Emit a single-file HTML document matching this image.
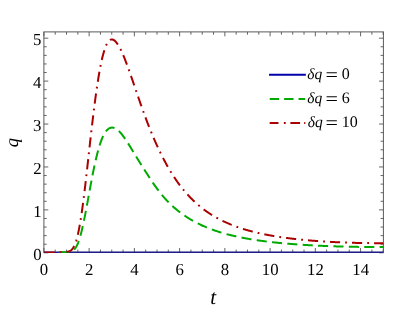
<!DOCTYPE html>
<html><head><meta charset="utf-8">
<style>
html,body{margin:0;padding:0;background:#fff;}
body{width:415px;height:313px;overflow:hidden;}
svg{display:block;}
text{font-family:"Liberation Serif",serif;fill:#000;text-rendering:geometricPrecision;}
.tl text{font-size:16.8px;}
.lg text{font-size:16px;}
.it{font-style:italic;}
.lg text.it{font-size:15.5px;}
</style></head><body>
<svg width="415" height="313" viewBox="0 0 415 313">
<rect width="415" height="313" fill="#fff"/>
<rect x="43.9" y="31.9" width="339.50" height="220.50" fill="none" stroke="#5a5a5a" stroke-width="1"/>
<path d="M43.90,252.4 v-4.4 M43.90,31.9 v4.4 M55.21,252.4 v-2.8 M55.21,31.9 v2.8 M66.52,252.4 v-2.8 M66.52,31.9 v2.8 M77.83,252.4 v-2.8 M77.83,31.9 v2.8 M89.14,252.4 v-4.4 M89.14,31.9 v4.4 M100.45,252.4 v-2.8 M100.45,31.9 v2.8 M111.76,252.4 v-2.8 M111.76,31.9 v2.8 M123.07,252.4 v-2.8 M123.07,31.9 v2.8 M134.38,252.4 v-4.4 M134.38,31.9 v4.4 M145.69,252.4 v-2.8 M145.69,31.9 v2.8 M157.00,252.4 v-2.8 M157.00,31.9 v2.8 M168.31,252.4 v-2.8 M168.31,31.9 v2.8 M179.62,252.4 v-4.4 M179.62,31.9 v4.4 M190.93,252.4 v-2.8 M190.93,31.9 v2.8 M202.24,252.4 v-2.8 M202.24,31.9 v2.8 M213.55,252.4 v-2.8 M213.55,31.9 v2.8 M224.86,252.4 v-4.4 M224.86,31.9 v4.4 M236.17,252.4 v-2.8 M236.17,31.9 v2.8 M247.48,252.4 v-2.8 M247.48,31.9 v2.8 M258.79,252.4 v-2.8 M258.79,31.9 v2.8 M270.10,252.4 v-4.4 M270.10,31.9 v4.4 M281.41,252.4 v-2.8 M281.41,31.9 v2.8 M292.72,252.4 v-2.8 M292.72,31.9 v2.8 M304.03,252.4 v-2.8 M304.03,31.9 v2.8 M315.34,252.4 v-4.4 M315.34,31.9 v4.4 M326.65,252.4 v-2.8 M326.65,31.9 v2.8 M337.96,252.4 v-2.8 M337.96,31.9 v2.8 M349.27,252.4 v-2.8 M349.27,31.9 v2.8 M360.58,252.4 v-4.4 M360.58,31.9 v4.4 M371.89,252.4 v-2.8 M371.89,31.9 v2.8 M383.20,252.4 v-2.8 M383.20,31.9 v2.8 M43.9,252.80 h4.4 M383.4,252.80 h-4.4 M43.9,244.22 h2.8 M383.4,244.22 h-2.8 M43.9,235.63 h2.8 M383.4,235.63 h-2.8 M43.9,227.05 h2.8 M383.4,227.05 h-2.8 M43.9,218.46 h2.8 M383.4,218.46 h-2.8 M43.9,209.88 h4.4 M383.4,209.88 h-4.4 M43.9,201.30 h2.8 M383.4,201.30 h-2.8 M43.9,192.71 h2.8 M383.4,192.71 h-2.8 M43.9,184.13 h2.8 M383.4,184.13 h-2.8 M43.9,175.54 h2.8 M383.4,175.54 h-2.8 M43.9,166.96 h4.4 M383.4,166.96 h-4.4 M43.9,158.38 h2.8 M383.4,158.38 h-2.8 M43.9,149.79 h2.8 M383.4,149.79 h-2.8 M43.9,141.21 h2.8 M383.4,141.21 h-2.8 M43.9,132.62 h2.8 M383.4,132.62 h-2.8 M43.9,124.04 h4.4 M383.4,124.04 h-4.4 M43.9,115.46 h2.8 M383.4,115.46 h-2.8 M43.9,106.87 h2.8 M383.4,106.87 h-2.8 M43.9,98.29 h2.8 M383.4,98.29 h-2.8 M43.9,89.70 h2.8 M383.4,89.70 h-2.8 M43.9,81.12 h4.4 M383.4,81.12 h-4.4 M43.9,72.54 h2.8 M383.4,72.54 h-2.8 M43.9,63.95 h2.8 M383.4,63.95 h-2.8 M43.9,55.37 h2.8 M383.4,55.37 h-2.8 M43.9,46.78 h2.8 M383.4,46.78 h-2.8 M43.9,38.20 h4.4 M383.4,38.20 h-4.4" stroke="#555" stroke-width="0.9" fill="none"/>
<defs><clipPath id="pc"><rect x="43.9" y="31.9" width="339.50" height="221.20"/></clipPath></defs>
<path d="M43.9,252.3 H383.4" stroke="#1e1e88" stroke-width="1.5" fill="none"/>
<g clip-path="url(#pc)">
<path d="M59.30,252.36 L59.84,252.35 L60.38,252.34 L60.92,252.34 L61.46,252.33 L62.01,252.32 L62.55,252.31 L63.09,252.30 L63.63,252.29 L64.17,252.27 L64.71,252.26 L65.25,252.24 L65.79,252.22 L66.33,252.20 L66.88,252.18 L67.42,252.15 L67.96,252.11 L68.50,252.06 L69.04,251.99 L69.58,251.91 L70.12,251.81 L70.66,251.67 L71.20,251.50 L71.75,251.29 L72.29,251.02 L72.83,250.70 L73.37,250.31 L73.91,249.84 L74.45,249.28 L74.99,248.63 L75.53,247.88 L76.07,247.02 L76.62,246.05 L77.16,244.96 L77.70,243.74 L78.24,242.39 L78.78,240.92 L79.32,239.31 L79.86,237.58 L80.40,235.72 L80.94,233.73 L81.49,231.63 L82.03,229.41 L82.57,227.08 L83.11,224.65 L83.65,222.13 L84.19,219.52 L84.73,216.83 L85.27,214.08 L85.81,211.26 L86.36,208.40 L86.90,205.50 L87.44,202.57 L87.98,199.61 L88.52,196.65 L89.06,193.68 L89.60,190.73 L90.14,187.78 L90.68,184.86 L91.23,181.97 L91.77,179.12 L92.31,176.32 L92.85,173.56 L93.39,170.87 L93.93,168.23 L94.47,165.67 L95.01,163.17 L95.55,160.76 L96.10,158.42 L96.64,156.16 L97.18,153.99 L97.72,151.91 L98.26,149.92 L98.80,148.02 L99.34,146.21 L99.88,144.49 L100.42,142.86 L100.97,141.33 L101.51,139.88 L102.05,138.53 L102.59,137.27 L103.13,136.09 L103.67,135.01 L104.21,134.00 L104.75,133.08 L105.29,132.24 L105.84,131.48 L106.38,130.80 L106.92,130.19 L107.46,129.65 L108.00,129.17 L108.54,128.77 L109.08,128.43 L109.62,128.14 L110.16,127.92 L110.71,127.76 L111.25,127.65 L111.79,127.60 L112.33,127.59 L112.87,127.64 L113.41,127.73 L113.95,127.87 L114.49,128.06 L115.03,128.29 L115.58,128.57 L116.12,128.88 L116.66,129.23 L117.20,129.63 L117.74,130.06 L118.28,130.52 L118.82,131.02 L119.36,131.55 L119.90,132.11 L120.45,132.71 L120.99,133.33 L121.53,133.97 L122.07,134.65 L122.61,135.34 L123.15,136.06 L123.69,136.79 L124.23,137.55 L124.77,138.32 L125.32,139.11 L125.86,139.92 L126.40,140.74 L126.94,141.57 L127.48,142.41 L128.02,143.26 L128.56,144.12 L129.10,144.99 L129.64,145.86 L130.19,146.74 L130.73,147.62 L131.27,148.51 L131.81,149.40 L132.35,150.30 L132.89,151.19 L133.43,152.09 L133.97,152.98 L134.51,153.88 L135.06,154.77 L135.60,155.66 L136.14,156.55 L136.68,157.44 L137.22,158.32 L137.76,159.20 L138.30,160.08 L138.84,160.95 L139.38,161.82 L139.93,162.69 L140.47,163.55 L141.01,164.41 L141.55,165.27 L142.09,166.12 L142.63,166.98 L143.17,167.83 L143.71,168.67 L144.25,169.52 L144.80,170.37 L145.34,171.21 L145.88,172.05 L146.42,172.89 L146.96,173.73 L147.50,174.56 L148.04,175.40 L148.58,176.23 L149.12,177.06 L149.67,177.89 L150.21,178.71 L150.75,179.54 L151.29,180.35 L151.83,181.17 L152.37,181.98 L152.91,182.78 L153.45,183.58 L153.99,184.37 L154.54,185.15 L155.08,185.92 L155.62,186.69 L156.16,187.45 L156.70,188.20 L157.24,188.94 L157.78,189.67 L158.32,190.39 L158.86,191.10 L159.41,191.80 L159.95,192.50 L160.49,193.18 L161.03,193.85 L161.57,194.52 L162.11,195.17 L162.65,195.82 L163.19,196.46 L163.73,197.09 L164.28,197.71 L164.82,198.32 L165.36,198.92 L165.90,199.51 L166.44,200.09 L166.98,200.67 L167.52,201.24 L168.06,201.80 L168.60,202.35 L169.15,202.89 L169.69,203.43 L170.23,203.95 L170.77,204.47 L171.31,204.99 L171.85,205.49 L172.39,205.99 L172.93,206.48 L173.47,206.97 L174.02,207.45 L174.56,207.92 L175.10,208.38 L175.64,208.84 L176.18,209.29 L176.72,209.74 L177.26,210.18 L177.80,210.61 L178.34,211.04 L178.89,211.46 L179.43,211.88 L179.97,212.30 L180.51,212.70 L181.05,213.11 L181.59,213.50 L182.13,213.90 L182.67,214.28 L183.21,214.67 L183.76,215.04 L184.30,215.42 L184.84,215.79 L185.38,216.15 L185.92,216.51 L186.46,216.87 L187.00,217.22 L187.54,217.57 L188.08,217.91 L188.63,218.25 L189.17,218.58 L189.71,218.91 L190.25,219.24 L190.79,219.56 L191.33,219.88 L191.87,220.19 L192.41,220.50 L192.95,220.81 L193.50,221.11 L194.04,221.41 L194.58,221.70 L195.12,221.99 L195.66,222.28 L196.20,222.57 L196.74,222.85 L197.28,223.13 L197.82,223.40 L198.37,223.67 L198.91,223.94 L199.45,224.20 L199.99,224.46 L200.53,224.72 L201.07,224.98 L201.61,225.23 L202.15,225.48 L202.69,225.72 L203.24,225.96 L203.78,226.20 L204.32,226.44 L204.86,226.68 L205.40,226.91 L205.94,227.13 L206.48,227.36 L207.02,227.58 L207.56,227.80 L208.11,228.02 L208.65,228.24 L209.19,228.45 L209.73,228.66 L210.27,228.87 L210.81,229.07 L211.35,229.27 L211.89,229.47 L212.43,229.67 L212.98,229.87 L213.52,230.06 L214.06,230.25 L214.60,230.44 L215.14,230.63 L215.68,230.81 L216.22,230.99 L216.76,231.17 L217.30,231.35 L217.85,231.53 L218.39,231.70 L218.93,231.87 L219.47,232.04 L220.01,232.21 L220.55,232.38 L221.09,232.54 L221.63,232.70 L222.17,232.86 L222.72,233.02 L223.26,233.18 L223.80,233.33 L224.34,233.49 L224.88,233.64 L225.42,233.79 L225.96,233.94 L226.50,234.08 L227.04,234.23 L227.59,234.37 L228.13,234.51 L228.67,234.65 L229.21,234.79 L229.75,234.93 L230.29,235.06 L230.83,235.20 L231.37,235.33 L231.91,235.46 L232.46,235.59 L233.00,235.72 L233.54,235.84 L234.08,235.97 L234.62,236.09 L235.16,236.22 L235.70,236.34 L236.24,236.46 L236.78,236.58 L237.33,236.69 L237.87,236.81 L238.41,236.92 L238.95,237.04 L239.49,237.15 L240.03,237.26 L240.57,237.37 L241.11,237.48 L241.65,237.59 L242.20,237.69 L242.74,237.80 L243.28,237.90 L243.82,238.01 L244.36,238.11 L244.90,238.21 L245.44,238.31 L245.98,238.41 L246.52,238.51 L247.07,238.60 L247.61,238.70 L248.15,238.79 L248.69,238.89 L249.23,238.98 L249.77,239.07 L250.31,239.16 L250.85,239.25 L251.39,239.34 L251.94,239.43 L252.48,239.52 L253.02,239.61 L253.56,239.69 L254.10,239.78 L254.64,239.86 L255.18,239.94 L255.72,240.02 L256.26,240.11 L256.81,240.19 L257.35,240.27 L257.89,240.34 L258.43,240.42 L258.97,240.50 L259.51,240.58 L260.05,240.65 L260.59,240.73 L261.13,240.80 L261.68,240.88 L262.22,240.95 L262.76,241.02 L263.30,241.09 L263.84,241.16 L264.38,241.23 L264.92,241.30 L265.46,241.37 L266.00,241.44 L266.55,241.51 L267.09,241.57 L267.63,241.64 L268.17,241.70 L268.71,241.77 L269.25,241.83 L269.79,241.90 L270.33,241.96 L270.87,242.02 L271.42,242.08 L271.96,242.14 L272.50,242.20 L273.04,242.26 L273.58,242.32 L274.12,242.38 L274.66,242.44 L275.20,242.50 L275.74,242.55 L276.29,242.61 L276.83,242.67 L277.37,242.72 L277.91,242.78 L278.45,242.83 L278.99,242.89 L279.53,242.94 L280.07,242.99 L280.61,243.04 L281.16,243.10 L281.70,243.15 L282.24,243.20 L282.78,243.25 L283.32,243.30 L283.86,243.35 L284.40,243.40 L284.94,243.45 L285.48,243.49 L286.03,243.54 L286.57,243.59 L287.11,243.63 L287.65,243.68 L288.19,243.73 L288.73,243.77 L289.27,243.82 L289.81,243.86 L290.35,243.91 L290.90,243.95 L291.44,243.99 L291.98,244.03 L292.52,244.08 L293.06,244.12 L293.60,244.16 L294.14,244.20 L294.68,244.24 L295.22,244.28 L295.77,244.32 L296.31,244.36 L296.85,244.40 L297.39,244.44 L297.93,244.48 L298.47,244.52 L299.01,244.55 L299.55,244.59 L300.09,244.63 L300.64,244.67 L301.18,244.70 L301.72,244.74 L302.26,244.77 L302.80,244.81 L303.34,244.84 L303.88,244.88 L304.42,244.91 L304.96,244.95 L305.51,244.98 L306.05,245.01 L306.59,245.05 L307.13,245.08 L307.67,245.11 L308.21,245.14 L308.75,245.17 L309.29,245.20 L309.83,245.24 L310.38,245.27 L310.92,245.30 L311.46,245.33 L312.00,245.36 L312.54,245.38 L313.08,245.41 L313.62,245.44 L314.16,245.47 L314.70,245.50 L315.25,245.53 L315.79,245.55 L316.33,245.58 L316.87,245.61 L317.41,245.63 L317.95,245.66 L318.49,245.69 L319.03,245.71 L319.57,245.74 L320.12,245.76 L320.66,245.79 L321.20,245.81 L321.74,245.84 L322.28,245.86 L322.82,245.88 L323.36,245.91 L323.90,245.93 L324.44,245.95 L324.99,245.98 L325.53,246.00 L326.07,246.02 L326.61,246.04 L327.15,246.06 L327.69,246.09 L328.23,246.11 L328.77,246.13 L329.31,246.15 L329.86,246.17 L330.40,246.19 L330.94,246.21 L331.48,246.23 L332.02,246.25 L332.56,246.27 L333.10,246.28 L333.64,246.30 L334.18,246.32 L334.73,246.34 L335.27,246.36 L335.81,246.37 L336.35,246.39 L336.89,246.41 L337.43,246.42 L337.97,246.44 L338.51,246.46 L339.06,246.47 L339.60,246.49 L340.14,246.50 L340.68,246.52 L341.22,246.53 L341.76,246.55 L342.30,246.56 L342.84,246.58 L343.38,246.59 L343.93,246.61 L344.47,246.62 L345.01,246.63 L345.55,246.65 L346.09,246.66 L346.63,246.67 L347.17,246.68 L347.71,246.70 L348.25,246.71 L348.80,246.72 L349.34,246.73 L349.88,246.74 L350.42,246.75 L350.96,246.76 L351.50,246.77 L352.04,246.78 L352.58,246.79 L353.12,246.80 L353.67,246.81 L354.21,246.82 L354.75,246.83 L355.29,246.84 L355.83,246.85 L356.37,246.86 L356.91,246.86 L357.45,246.87 L357.99,246.88 L358.54,246.89 L359.08,246.89 L359.62,246.90 L360.16,246.91 L360.70,246.92 L361.24,246.92 L361.78,246.93 L362.32,246.93 L362.86,246.94 L363.41,246.94 L363.95,246.95 L364.49,246.95 L365.03,246.96 L365.57,246.96 L366.11,246.97 L366.65,246.97 L367.19,246.98 L367.73,246.98 L368.28,246.98 L368.82,246.99 L369.36,246.99 L369.90,246.99 L370.44,246.99 L370.98,247.00 L371.52,247.00 L372.06,247.00 L372.60,247.00 L373.15,247.00 L373.69,247.00 L374.23,247.00 L374.77,247.00 L375.31,247.00 L375.85,247.00 L376.39,247.00 L376.93,247.00 L377.47,247.00 L378.02,247.00 L378.56,247.00 L379.10,247.00 L379.64,247.00 L380.18,247.00 L380.72,247.00 L381.26,246.99 L381.80,246.99 L382.34,246.99 L382.89,246.99 L383.40,246.98" stroke="#00aa00" stroke-width="2" fill="none" stroke-dasharray="10.1 5.3"/>
<path d="M43.90,252.40 L44.47,252.40 L45.03,252.40 L45.60,252.40 L46.17,252.40 L46.73,252.40 L47.30,252.40 L47.87,252.40 L48.43,252.40 L49.00,252.40 L49.57,252.40 L50.14,252.40 L50.70,252.40 L51.27,252.39 L51.84,252.39 L52.40,252.39 L52.97,252.39 L53.54,252.38 L54.10,252.38 L54.67,252.38 L55.24,252.37 L55.80,252.36 L56.37,252.36 L56.94,252.35 L57.50,252.34 L58.07,252.33 L58.64,252.31 L59.20,252.30 L59.77,252.28 L60.34,252.27 L60.90,252.25 L61.47,252.23 L62.04,252.20 L62.61,252.18 L63.17,252.15 L63.74,252.12 L64.31,252.08 L64.87,252.04 L65.44,251.99 L66.01,251.94 L66.57,251.87 L67.14,251.79 L67.71,251.69 L68.27,251.56 L68.84,251.40 L69.41,251.20 L69.97,250.94 L70.54,250.62 L71.11,250.22 L71.67,249.73 L72.24,249.13 L72.81,248.41 L73.37,247.56 L73.94,246.56 L74.51,245.39 L75.08,244.05 L75.64,242.52 L76.21,240.79 L76.78,238.85 L77.34,236.70 L77.91,234.33 L78.48,231.74 L79.04,228.92 L79.61,225.89 L80.18,222.63 L80.74,219.17 L81.31,215.50 L81.88,211.63 L82.44,207.58 L83.01,203.36 L83.58,198.98 L84.14,194.46 L84.71,189.80 L85.28,185.04 L85.84,180.17 L86.41,175.23 L86.98,170.22 L87.55,165.16 L88.11,160.07 L88.68,154.97 L89.25,149.87 L89.81,144.79 L90.38,139.73 L90.95,134.72 L91.51,129.77 L92.08,124.89 L92.65,120.08 L93.21,115.37 L93.78,110.77 L94.35,106.27 L94.91,101.88 L95.48,97.63 L96.05,93.50 L96.61,89.51 L97.18,85.66 L97.75,81.96 L98.31,78.40 L98.88,74.99 L99.45,71.74 L100.02,68.64 L100.58,65.70 L101.15,62.91 L101.72,60.29 L102.28,57.83 L102.85,55.53 L103.42,53.39 L103.98,51.42 L104.55,49.61 L105.12,47.95 L105.68,46.46 L106.25,45.13 L106.82,43.94 L107.38,42.91 L107.95,42.03 L108.52,41.28 L109.08,40.67 L109.65,40.19 L110.22,39.84 L110.78,39.60 L111.35,39.47 L111.92,39.46 L112.49,39.54 L113.05,39.72 L113.62,39.99 L114.19,40.35 L114.75,40.79 L115.32,41.31 L115.89,41.91 L116.45,42.58 L117.02,43.32 L117.59,44.12 L118.15,44.99 L118.72,45.92 L119.29,46.90 L119.85,47.94 L120.42,49.04 L120.99,50.18 L121.55,51.37 L122.12,52.60 L122.69,53.87 L123.26,55.18 L123.82,56.53 L124.39,57.91 L124.96,59.33 L125.52,60.78 L126.09,62.27 L126.66,63.77 L127.22,65.30 L127.79,66.85 L128.36,68.42 L128.92,70.01 L129.49,71.61 L130.06,73.22 L130.62,74.85 L131.19,76.48 L131.76,78.12 L132.32,79.77 L132.89,81.42 L133.46,83.08 L134.02,84.74 L134.59,86.41 L135.16,88.07 L135.73,89.74 L136.29,91.40 L136.86,93.06 L137.43,94.72 L137.99,96.37 L138.56,98.02 L139.13,99.67 L139.69,101.30 L140.26,102.93 L140.83,104.55 L141.39,106.16 L141.96,107.77 L142.53,109.36 L143.09,110.94 L143.66,112.51 L144.23,114.07 L144.79,115.61 L145.36,117.14 L145.93,118.66 L146.49,120.17 L147.06,121.66 L147.63,123.14 L148.20,124.61 L148.76,126.06 L149.33,127.49 L149.90,128.92 L150.46,130.33 L151.03,131.72 L151.60,133.10 L152.16,134.47 L152.73,135.82 L153.30,137.15 L153.86,138.48 L154.43,139.79 L155.00,141.08 L155.56,142.36 L156.13,143.63 L156.70,144.89 L157.26,146.13 L157.83,147.35 L158.40,148.57 L158.96,149.76 L159.53,150.95 L160.10,152.12 L160.67,153.28 L161.23,154.43 L161.80,155.56 L162.37,156.68 L162.93,157.79 L163.50,158.88 L164.07,159.96 L164.63,161.03 L165.20,162.09 L165.77,163.13 L166.33,164.16 L166.90,165.18 L167.47,166.18 L168.03,167.17 L168.60,168.15 L169.17,169.12 L169.73,170.08 L170.30,171.02 L170.87,171.96 L171.43,172.88 L172.00,173.78 L172.57,174.68 L173.14,175.57 L173.70,176.44 L174.27,177.31 L174.84,178.16 L175.40,179.00 L175.97,179.83 L176.54,180.65 L177.10,181.46 L177.67,182.26 L178.24,183.04 L178.80,183.82 L179.37,184.59 L179.94,185.34 L180.50,186.09 L181.07,186.83 L181.64,187.55 L182.20,188.27 L182.77,188.98 L183.34,189.68 L183.90,190.36 L184.47,191.04 L185.04,191.71 L185.61,192.37 L186.17,193.03 L186.74,193.67 L187.31,194.30 L187.87,194.93 L188.44,195.55 L189.01,196.16 L189.57,196.76 L190.14,197.35 L190.71,197.94 L191.27,198.51 L191.84,199.08 L192.41,199.64 L192.97,200.20 L193.54,200.75 L194.11,201.28 L194.67,201.82 L195.24,202.34 L195.81,202.86 L196.38,203.37 L196.94,203.87 L197.51,204.37 L198.08,204.86 L198.64,205.35 L199.21,205.82 L199.78,206.29 L200.34,206.76 L200.91,207.22 L201.48,207.67 L202.04,208.12 L202.61,208.56 L203.18,208.99 L203.74,209.42 L204.31,209.84 L204.88,210.26 L205.44,210.67 L206.01,211.08 L206.58,211.48 L207.14,211.87 L207.71,212.26 L208.28,212.65 L208.85,213.03 L209.41,213.41 L209.98,213.78 L210.55,214.14 L211.11,214.50 L211.68,214.86 L212.25,215.21 L212.81,215.56 L213.38,215.90 L213.95,216.24 L214.51,216.57 L215.08,216.90 L215.65,217.22 L216.21,217.54 L216.78,217.86 L217.35,218.17 L217.91,218.48 L218.48,218.79 L219.05,219.09 L219.61,219.38 L220.18,219.68 L220.75,219.97 L221.32,220.25 L221.88,220.53 L222.45,220.81 L223.02,221.09 L223.58,221.36 L224.15,221.63 L224.72,221.89 L225.28,222.15 L225.85,222.41 L226.42,222.66 L226.98,222.91 L227.55,223.16 L228.12,223.41 L228.68,223.65 L229.25,223.89 L229.82,224.13 L230.38,224.36 L230.95,224.59 L231.52,224.82 L232.08,225.04 L232.65,225.26 L233.22,225.48 L233.79,225.70 L234.35,225.91 L234.92,226.13 L235.49,226.33 L236.05,226.54 L236.62,226.74 L237.19,226.95 L237.75,227.15 L238.32,227.34 L238.89,227.54 L239.45,227.73 L240.02,227.92 L240.59,228.10 L241.15,228.29 L241.72,228.47 L242.29,228.65 L242.85,228.83 L243.42,229.01 L243.99,229.18 L244.55,229.36 L245.12,229.53 L245.69,229.69 L246.26,229.86 L246.82,230.02 L247.39,230.19 L247.96,230.35 L248.52,230.51 L249.09,230.66 L249.66,230.82 L250.22,230.97 L250.79,231.12 L251.36,231.27 L251.92,231.42 L252.49,231.57 L253.06,231.71 L253.62,231.86 L254.19,232.00 L254.76,232.14 L255.32,232.27 L255.89,232.41 L256.46,232.55 L257.02,232.68 L257.59,232.81 L258.16,232.94 L258.73,233.07 L259.29,233.20 L259.86,233.33 L260.43,233.45 L260.99,233.57 L261.56,233.70 L262.13,233.82 L262.69,233.94 L263.26,234.06 L263.83,234.17 L264.39,234.29 L264.96,234.40 L265.53,234.52 L266.09,234.63 L266.66,234.74 L267.23,234.85 L267.79,234.95 L268.36,235.06 L268.93,235.17 L269.50,235.27 L270.06,235.38 L270.63,235.48 L271.20,235.58 L271.76,235.68 L272.33,235.78 L272.90,235.88 L273.46,235.97 L274.03,236.07 L274.60,236.16 L275.16,236.26 L275.73,236.35 L276.30,236.44 L276.86,236.53 L277.43,236.62 L278.00,236.71 L278.56,236.80 L279.13,236.89 L279.70,236.97 L280.26,237.06 L280.83,237.14 L281.40,237.23 L281.97,237.31 L282.53,237.39 L283.10,237.47 L283.67,237.55 L284.23,237.63 L284.80,237.71 L285.37,237.79 L285.93,237.86 L286.50,237.94 L287.07,238.02 L287.63,238.09 L288.20,238.16 L288.77,238.24 L289.33,238.31 L289.90,238.38 L290.47,238.45 L291.03,238.52 L291.60,238.59 L292.17,238.66 L292.73,238.72 L293.30,238.79 L293.87,238.86 L294.44,238.92 L295.00,238.99 L295.57,239.05 L296.14,239.11 L296.70,239.18 L297.27,239.24 L297.84,239.30 L298.40,239.36 L298.97,239.42 L299.54,239.48 L300.10,239.54 L300.67,239.60 L301.24,239.65 L301.80,239.71 L302.37,239.77 L302.94,239.82 L303.50,239.88 L304.07,239.93 L304.64,239.99 L305.20,240.04 L305.77,240.09 L306.34,240.14 L306.91,240.20 L307.47,240.25 L308.04,240.30 L308.61,240.35 L309.17,240.40 L309.74,240.45 L310.31,240.49 L310.87,240.54 L311.44,240.59 L312.01,240.64 L312.57,240.68 L313.14,240.73 L313.71,240.77 L314.27,240.82 L314.84,240.86 L315.41,240.90 L315.97,240.95 L316.54,240.99 L317.11,241.03 L317.67,241.07 L318.24,241.11 L318.81,241.15 L319.38,241.20 L319.94,241.23 L320.51,241.27 L321.08,241.31 L321.64,241.35 L322.21,241.39 L322.78,241.43 L323.34,241.46 L323.91,241.50 L324.48,241.54 L325.04,241.57 L325.61,241.61 L326.18,241.64 L326.74,241.67 L327.31,241.71 L327.88,241.74 L328.44,241.77 L329.01,241.81 L329.58,241.84 L330.14,241.87 L330.71,241.90 L331.28,241.93 L331.85,241.96 L332.41,241.99 L332.98,242.02 L333.55,242.05 L334.11,242.08 L334.68,242.11 L335.25,242.14 L335.81,242.16 L336.38,242.19 L336.95,242.22 L337.51,242.24 L338.08,242.27 L338.65,242.30 L339.21,242.32 L339.78,242.35 L340.35,242.37 L340.91,242.39 L341.48,242.42 L342.05,242.44 L342.62,242.46 L343.18,242.49 L343.75,242.51 L344.32,242.53 L344.88,242.55 L345.45,242.57 L346.02,242.59 L346.58,242.61 L347.15,242.63 L347.72,242.65 L348.28,242.67 L348.85,242.69 L349.42,242.71 L349.98,242.73 L350.55,242.74 L351.12,242.76 L351.68,242.78 L352.25,242.80 L352.82,242.81 L353.38,242.83 L353.95,242.84 L354.52,242.86 L355.09,242.87 L355.65,242.89 L356.22,242.90 L356.79,242.92 L357.35,242.93 L357.92,242.94 L358.49,242.95 L359.05,242.97 L359.62,242.98 L360.19,242.99 L360.75,243.00 L361.32,243.01 L361.89,243.02 L362.45,243.03 L363.02,243.04 L363.59,243.05 L364.15,243.06 L364.72,243.07 L365.29,243.08 L365.85,243.09 L366.42,243.10 L366.99,243.10 L367.56,243.11 L368.12,243.12 L368.69,243.12 L369.26,243.13 L369.82,243.14 L370.39,243.14 L370.96,243.15 L371.52,243.15 L372.09,243.16 L372.66,243.16 L373.22,243.17 L373.79,243.17 L374.36,243.17 L374.92,243.18 L375.49,243.18 L376.06,243.18 L376.62,243.18 L377.19,243.18 L377.76,243.19 L378.32,243.19 L378.89,243.19 L379.46,243.19 L380.03,243.19 L380.59,243.19 L381.16,243.19 L381.73,243.18 L382.29,243.18 L382.86,243.18 L383.40,243.18" stroke="#aa0000" stroke-width="2" fill="none" stroke-dasharray="10.15 5.05 1.8 5.05" stroke-dashoffset="-0.6"/>
</g>
<g style="mix-blend-mode:multiply" transform="translate(0 156) skewX(0.05) translate(0 -156)"><g class="tl"><text x="43.90" y="275.0" text-anchor="middle">0</text><text x="89.14" y="275.0" text-anchor="middle">2</text><text x="134.38" y="275.0" text-anchor="middle">4</text><text x="179.62" y="275.0" text-anchor="middle">6</text><text x="224.86" y="275.0" text-anchor="middle">8</text><text x="270.10" y="275.0" text-anchor="middle">10</text><text x="315.34" y="275.0" text-anchor="middle">12</text><text x="360.58" y="275.0" text-anchor="middle">14</text><text x="41.5" y="260.15" text-anchor="end">0</text><text x="41.5" y="217.08" text-anchor="end">1</text><text x="41.5" y="174.01" text-anchor="end">2</text><text x="41.5" y="130.94" text-anchor="end">3</text><text x="41.5" y="87.87" text-anchor="end">4</text><text x="41.5" y="44.80" text-anchor="end">5</text></g>
<text class="it" x="213.0" y="303.9" text-anchor="middle" font-size="21">t</text>
<text class="it" transform="translate(18.0,142.6) rotate(-90)" text-anchor="middle" font-size="18.5">q</text>
<g class="lg">
<path d="M269.1,74.7 H305.9" stroke="#0000aa" stroke-width="2" fill="none"/>
<path d="M269.8,98.9 H305.2" stroke="#00aa00" stroke-width="2" fill="none" stroke-dasharray="9.4 5"/>
<path d="M269.7,123.1 H305.4" stroke="#aa0000" stroke-width="2" fill="none" stroke-dasharray="8.8 5.4 1.8 4.7 9.7 4.1 1.2 100"/>
<text class="it" x="307.3" y="79">δq</text><text class="eq" transform="translate(325.6,80.9) scale(1.38,1.2)">=</text><text x="341.8" y="79">0</text>
<text class="it" x="307.3" y="102.7">δq</text><text class="eq" transform="translate(325.6,104.6) scale(1.38,1.2)">=</text><text x="341.8" y="102.7">6</text>
<text class="it" x="307.8" y="127.2">δq</text><text class="eq" transform="translate(325.6,129.1) scale(1.38,1.2)">=</text><text x="341.8" y="127.2">10</text>
</g></g>
</svg>
</body></html>
